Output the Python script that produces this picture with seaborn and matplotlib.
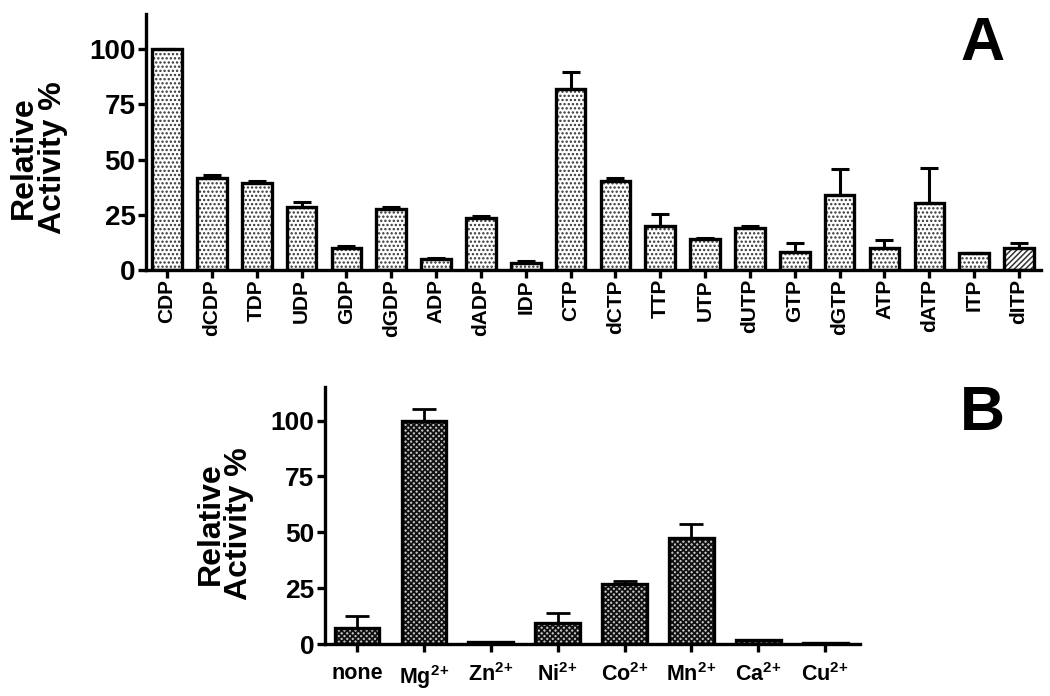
import numpy as np
import pandas as pd
import matplotlib
matplotlib.use("Agg")
import matplotlib.pyplot as plt
import seaborn as sns

# ---------------- data ----------------
substrates = ["CDP", "dCDP", "TDP", "UDP", "GDP", "dGDP", "ADP", "dADP", "IDP",
              "CTP", "dCTP", "TTP", "UTP", "dUTP", "GTP", "dGTP", "ATP", "dATP",
              "ITP", "dITP"]
substrate_activity = [100, 41.6, 39.4, 28.5, 10, 27.6, 5, 23.5, 3.2,
                      82, 40.3, 20, 14, 19, 8.1, 34, 10, 30.5, 7.7, 10]
substrate_error = [0, 1.5, 1, 2.3, 0.8, 1, 0.5, 1, 0.8,
                   7.6, 1.3, 5.5, 0.5, 1, 4, 11.7, 3.5, 15.5, 0, 2.3]

ions = ["none", "Mg", "Zn", "Ni", "Co", "Mn", "Ca", "Cu"]
ion_labels = ["none", r"Mg$^{\mathbf{2\!+}}$", r"Zn$^{\mathbf{2\!+}}$", r"Ni$^{\mathbf{2\!+}}$",
              r"Co$^{\mathbf{2\!+}}$", r"Mn$^{\mathbf{2\!+}}$", r"Ca$^{\mathbf{2\!+}}$",
              r"Cu$^{\mathbf{2\!+}}$"]
ion_activity = [7.1, 100, 0.8, 9.4, 26.8, 47.3, 2, 0.3]
ion_error = [5.5, 5, 0, 4.4, 1.2, 6.3, 0, 0]

y_ticks = [0, 25, 50, 75, 100]

# ---------------- style ----------------
sns.set_theme(style="ticks")
plt.rcParams["font.family"] = ["Liberation Sans", "DejaVu Sans"]
plt.rcParams["font.weight"] = "bold"
plt.rcParams["mathtext.fontset"] = "custom"
plt.rcParams["mathtext.rm"] = "Liberation Sans:bold"
plt.rcParams["mathtext.bf"] = "Liberation Sans:bold"
for key in ("text.color", "axes.labelcolor", "xtick.color", "ytick.color",
            "axes.edgecolor"):
    plt.rcParams[key] = "black"

dfA = pd.DataFrame({"substrate": substrates, "activity": substrate_activity,
                    "error": substrate_error})
dfB = pd.DataFrame({"ion": ions, "activity": ion_activity, "error": ion_error})

fig = plt.figure(figsize=(10.5, 6.96), dpi=100)
axA = fig.add_axes([0.139, 0.612, 0.852, 0.368])
axB = fig.add_axes([0.3095, 0.0747, 0.5095, 0.3693])

LW = 2.4

def style_axis(ax, ylim, xlim, ytick_size, xtick_size, rot, xpad):
    ax.set_ylim(*ylim)
    ax.set_xlim(*xlim)
    ax.set_yticks(y_ticks)
    sns.despine(ax=ax)
    for s in ("left", "bottom"):
        ax.spines[s].set_linewidth(LW)
        ax.spines[s].set_color("black")
    ax.tick_params(axis="both", direction="out", length=6, width=LW,
                   color="black", labelcolor="black")
    ax.tick_params(axis="y", labelsize=ytick_size, pad=1.5)
    ax.tick_params(axis="x", labelsize=xtick_size, labelrotation=rot, pad=xpad)
    for t in ax.get_yticklabels() + ax.get_xticklabels():
        t.set_fontweight("bold")
    ax.set_xlabel("")

# ---------------- panel A ----------------
plt.rcParams["hatch.linewidth"] = 1.1
sns.barplot(data=dfA, x="substrate", y="activity", order=substrates, ax=axA,
            color="white", width=0.66, edgecolor="#333333", linewidth=0,
            errorbar=None, saturation=1)
for i, p in enumerate(axA.patches):
    if substrates[i] == "dITP":
        p.set_hatch("//////")
    else:
        p.set_hatch("....")
sns.barplot(data=dfA, x="substrate", y="activity", order=substrates, ax=axA,
            fill=False, width=0.66, edgecolor="black", linewidth=LW,
            errorbar=None)
axA.errorbar(np.arange(len(substrates)), dfA["activity"],
             yerr=[np.zeros(len(substrates)), dfA["error"]],
             fmt="none", ecolor="black", elinewidth=2.2, capsize=6.5,
             capthick=2.2, zorder=1)
style_axis(axA, (0, 116), (-0.47, 19.48), 20, 15, 90, 0.5)
axA.set_ylabel("Relative\nActivity %", fontsize=23, fontweight="bold",
               linespacing=0.95)
axA.yaxis.label.set_va("center")
axA.yaxis.set_label_coords(-0.12, 0.44)

# ---------------- panel B ----------------
plt.rcParams["hatch.linewidth"] = 1.3
sns.barplot(data=dfB, x="ion", y="activity", order=ions, ax=axB,
            color="#c4c4c4", width=0.67, edgecolor="#111111", linewidth=0,
            errorbar=None, saturation=1, hatch="xxxxxx")
sns.barplot(data=dfB, x="ion", y="activity", order=ions, ax=axB,
            fill=False, width=0.67, edgecolor="black", linewidth=LW,
            errorbar=None)
axB.errorbar(np.arange(len(ions)), dfB["activity"],
             yerr=[np.zeros(len(ions)), dfB["error"]],
             fmt="none", ecolor="black", elinewidth=2.0, capsize=8.5,
             capthick=2.0, zorder=1)
style_axis(axB, (0, 115), (-0.48, 7.52), 19, 15.5, 0, 8)
axB.set_xticks(range(len(ions)))
axB.set_xticklabels(ion_labels, fontweight="bold")
axB.set_ylabel("Relative\nActivity %", fontsize=23, fontweight="bold",
               linespacing=0.95)
axB.yaxis.label.set_va("center")
axB.yaxis.set_label_coords(-0.187, 0.47)

# panel letters
fig.text(983 / 1050, 1 - 45 / 696, "A", fontsize=44, fontweight="bold",
         ha="center", va="center")
fig.text(982 / 1050, 1 - 414 / 696, "B", fontsize=45, fontweight="bold",
         ha="center", va="center")

fig.savefig("out.png", dpi=100, facecolor="white")
